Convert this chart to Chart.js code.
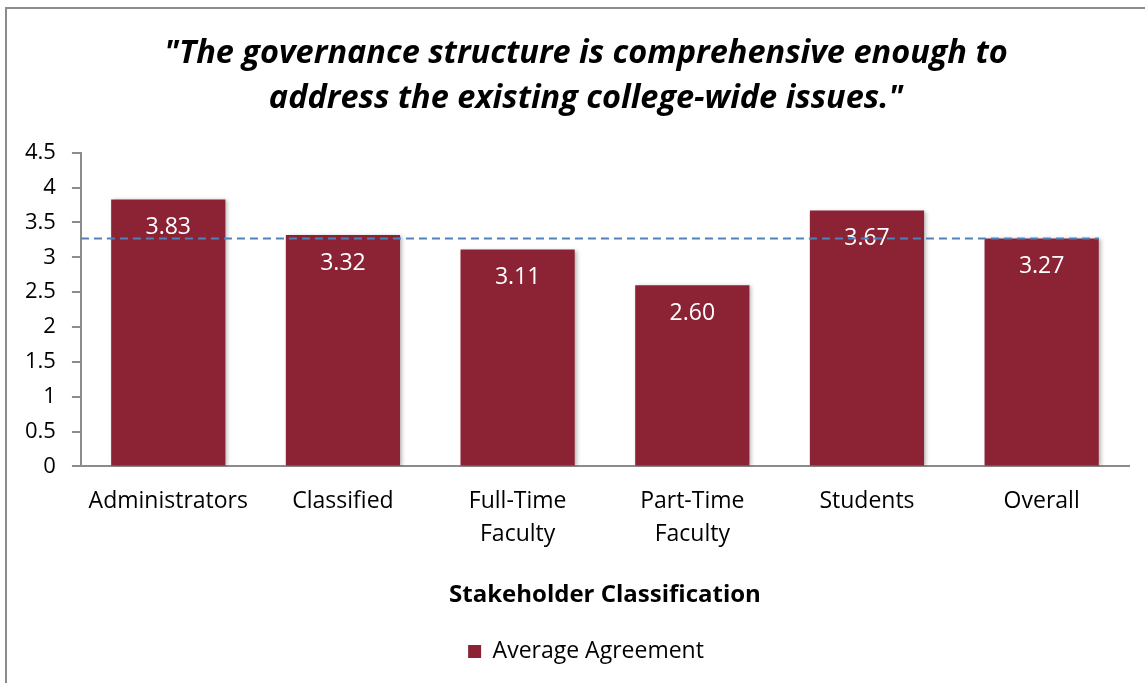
<!DOCTYPE html>
<html>
<head>
<meta charset="utf-8">
<script src="https://cdn.jsdelivr.net/npm/chart.js@4.4.1/dist/chart.umd.min.js"></script>
<style>
  html, body { margin: 0; padding: 0; background: #fff; overflow: hidden; }
  #wrap { position: relative; width: 1145px; height: 683px; overflow: hidden; }
  #frame { position: absolute; left: 5px; top: 7px; width: 1200px; height: 700px;
           border-left: 2px solid #8c8c8c; border-top: 2px solid #8c8c8c; box-sizing: border-box; }
  canvas { position: absolute; left: 0; top: 0; }
</style>
</head>
<body>
<div id="wrap">
  <div id="frame"></div>
  <canvas id="c" width="1179" height="683"></canvas>
</div>
<script>
const titleLines = ['"The governance structure is comprehensive enough to', 'address the existing college-wide issues."'];
const categories = [['Administrators'], ['Classified'], ['Full-Time', 'Faculty'], ['Part-Time', 'Faculty'], ['Students'], ['Overall']];
const averageAgreement = [3.83, 3.32, 3.11, 2.60, 3.67, 3.27];
const overallAverage = 3.27;
const seriesName = 'Average Agreement';
const xAxisTitle = 'Stakeholder Classification';
const yMin = 0, yMax = 4.5, yStep = 0.5;

const FONT = "'Open Sans', 'Noto Sans', sans-serif";
const BAR = '#8B2335';

const shadowPlugin = {
  id: 'barShadow',
  beforeDatasetsDraw(chart) {
    const ctx = chart.ctx;
    ctx.save();
    ctx.shadowColor = 'rgba(0,0,0,0.28)';
    ctx.shadowBlur = 4;
    ctx.shadowOffsetX = 2;
    ctx.shadowOffsetY = 1;
  },
  afterDatasetsDraw(chart) {
    chart.ctx.restore();
  }
};

const overlayPlugin = {
  id: 'overlay',
  afterDatasetsDraw(chart) {
    const ctx = chart.ctx;
    const meta = chart.getDatasetMeta(0);
    const ys = chart.scales.y;
    ctx.save();
    ctx.fillStyle = '#ffffff';
    ctx.font = `23px ${FONT}`;
    ctx.textAlign = 'center';
    ctx.textBaseline = 'middle';
    meta.data.forEach((bar, i) => {
      ctx.fillText(averageAgreement[i].toFixed(2), bar.x, bar.y + 28);
    });
    const last = meta.data[meta.data.length - 1];
    const y = ys.getPixelForValue(overallAverage);
    ctx.strokeStyle = '#4F81BD';
    ctx.lineWidth = 2;
    ctx.setLineDash([8, 5]);
    ctx.beginPath();
    ctx.moveTo(chart.chartArea.left, y);
    ctx.lineTo(last.x + last.width / 2, y);
    ctx.stroke();
    ctx.restore();
  }
};

new Chart(document.getElementById('c'), {
  type: 'bar',
  data: {
    labels: categories,
    datasets: [{
      label: seriesName,
      data: averageAgreement,
      backgroundColor: BAR,
      borderWidth: 0,
      categoryPercentage: 1,
      barPercentage: 0.654
    }]
  },
  options: {
    responsive: false,
    animation: false,
    devicePixelRatio: 1,
    layout: { padding: { left: 9, right: 16, top: 0, bottom: 10 } },
    plugins: {
      title: {
        display: true,
        text: titleLines,
        color: '#000',
        font: { family: FONT, size: 32.5, weight: 'bold', style: 'italic', lineHeight: 1.38 },
        padding: { top: 31, bottom: 32 }
      },
      legend: {
        display: true,
        position: 'bottom',
        labels: {
          color: '#000',
          font: { family: FONT, size: 23 },
          boxWidth: 13, boxHeight: 13, padding: 8
        }
      },
      tooltip: { enabled: false }
    },
    scales: {
      x: {
        grid: { display: false, drawTicks: false },
        border: { display: true, color: '#8c8c8c', width: 2 },
        ticks: { color: '#000', font: { family: FONT, size: 23, lineHeight: 1.43 }, padding: 19, maxRotation: 0, autoSkip: false },
        title: { display: true, text: xAxisTitle, color: '#000', font: { family: FONT, size: 24, weight: 'bold' }, padding: { top: 11, bottom: 22 } }
      },
      y: {
        min: yMin, max: yMax,
        ticks: { stepSize: yStep, color: '#000', font: { family: FONT, size: 22 }, padding: 16,
                 callback: (v) => String(v) },
        grid: { drawOnChartArea: false, drawTicks: true, tickLength: 9, color: '#8c8c8c', lineWidth: 2 },
        border: { display: true, color: '#8c8c8c', width: 2 }
      },
      spacer: {
        type: 'linear',
        position: 'right',
        display: true,
        min: yMin, max: yMax,
        grid: { display: false, drawTicks: false },
        border: { display: false },
        ticks: { display: false },
        afterFit: (scale) => { scale.width = 34; }
      }
    }
  },
  plugins: [shadowPlugin, overlayPlugin]
});
</script>
</body>
</html>
